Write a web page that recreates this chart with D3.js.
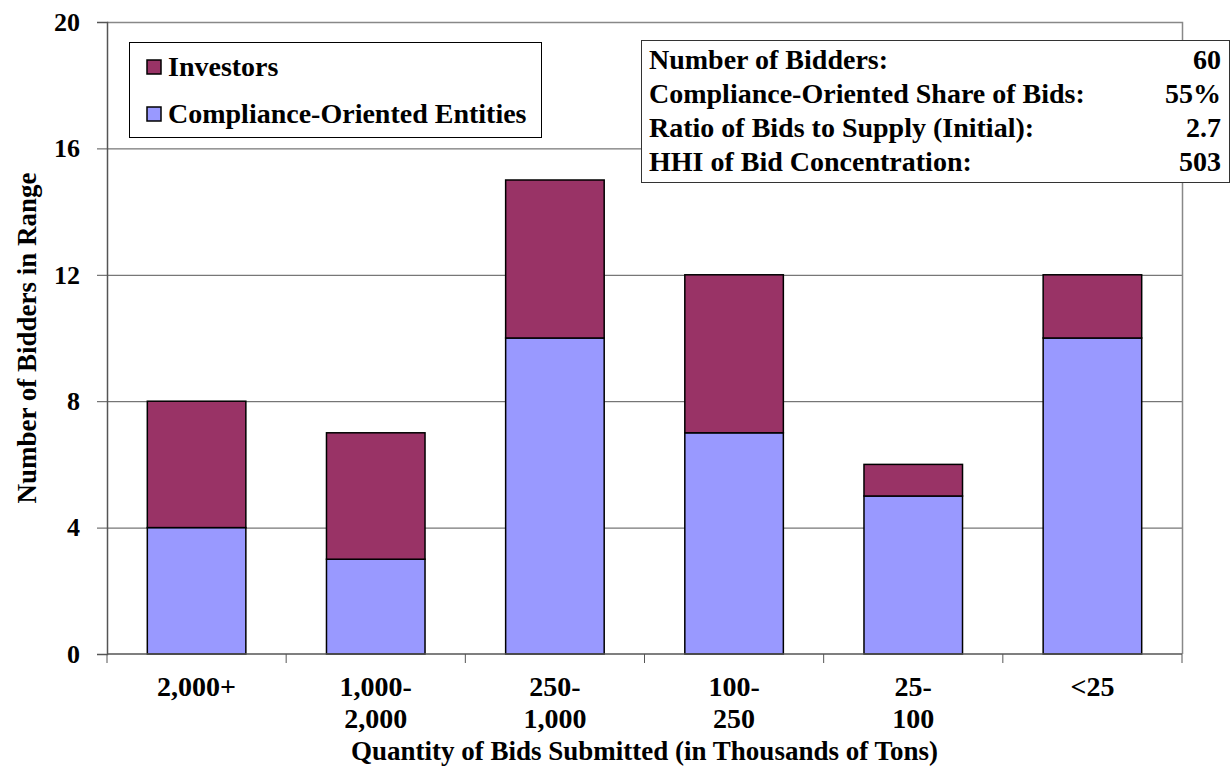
<!DOCTYPE html>
<html>
<head>
<meta charset="utf-8">
<script src="https://cdn.jsdelivr.net/npm/d3@7"></script>
<style>
  body { margin: 0; background: #fff; }
  svg text { font-family: "Liberation Serif", "Times New Roman", serif; font-weight: bold; fill: #000; }
</style>
</head>
<body>
<div id="chart"></div>
<script>
// categorias e valores
const categories = [["2,000+"], ["1,000-", "2,000"], ["250-", "1,000"], ["100-", "250"], ["25-", "100"], ["<25"]];
const compliance = [4, 3, 10, 7, 5, 10];
const investors = [4, 4, 5, 5, 1, 2];
const yTicks = [0, 4, 8, 12, 16, 20];
const statLabels = ["Number of Bidders:", "Compliance-Oriented Share of Bids:", "Ratio of Bids to Supply (Initial):", "HHI of Bid Concentration:"];
const statValues = ["60", "55%", "2.7", "503"];

const width = 1232, height = 766;
const m = { left: 107, top: 22, right: 1182, bottom: 654 };
const colInv = "#993366", colComp = "#9999FF";

const svg = d3.select("#chart").append("svg")
  .attr("width", width).attr("height", height);

const x = d3.scaleBand().domain(d3.range(categories.length))
  .range([m.left, m.right]).paddingInner(0.45).paddingOuter(0.225);
const y = d3.scaleLinear().domain([0, 20]).range([m.bottom, m.top]);

// grade horizontal
svg.append("g").selectAll("line").data(yTicks.filter(d => d > 0 && d < 20)).join("line")
  .attr("x1", m.left).attr("x2", m.right)
  .attr("y1", d => y(d) + 0.5).attr("y2", d => y(d) + 0.5)
  .attr("stroke", "#555").attr("stroke-width", 1);

// borda da área do gráfico (cinza)
svg.append("path")
  .attr("d", `M${m.left},${m.top + 0.5}H${m.right + 0.5}V${m.bottom}`)
  .attr("fill", "none").attr("stroke", "#888").attr("stroke-width", 1.5);

// barras empilhadas
const bars = svg.append("g");
bars.selectAll("rect.comp").data(compliance).join("rect")
  .attr("class", "comp")
  .attr("x", (d, i) => x(i)).attr("width", x.bandwidth())
  .attr("y", d => y(d)).attr("height", d => y(0) - y(d))
  .attr("fill", colComp).attr("stroke", "#000").attr("stroke-width", 1.5);
bars.selectAll("rect.inv").data(investors).join("rect")
  .attr("class", "inv")
  .attr("x", (d, i) => x(i)).attr("width", x.bandwidth())
  .attr("y", (d, i) => y(compliance[i] + d)).attr("height", (d, i) => y(compliance[i]) - y(compliance[i] + d))
  .attr("fill", colInv).attr("stroke", "#000").attr("stroke-width", 1.5);

// eixo Y
const yAxis = svg.append("g").attr("transform", `translate(${m.left},0)`)
  .call(d3.axisLeft(y).tickValues(yTicks).tickSize(10).tickPadding(17));
yAxis.select(".domain").attr("stroke", "#555").attr("stroke-width", 1.5);
yAxis.selectAll(".tick line").attr("stroke", "#555");
yAxis.selectAll("text").style("font-size", "26px").style("font-family", "Liberation Serif").style("font-weight", "bold");

// eixo X (ticks nas divisões das categorias)
const step = x.step();
const xEdges = d3.range(categories.length + 1).map(i => m.left + i * step);
svg.append("line").attr("x1", m.left).attr("x2", m.right)
  .attr("y1", m.bottom).attr("y2", m.bottom).attr("stroke", "#555").attr("stroke-width", 1.5);
svg.append("g").selectAll("line").data(xEdges).join("line")
  .attr("x1", d => d).attr("x2", d => d)
  .attr("y1", m.bottom).attr("y2", m.bottom + 9)
  .attr("stroke", "#555").attr("stroke-width", 1);

const xl = svg.append("g").selectAll("text").data(categories).join("text")
  .attr("x", (d, i) => x(i) + x.bandwidth() / 2)
  .attr("y", 696)
  .attr("text-anchor", "middle")
  .style("font-size", "28px");
xl.selectAll("tspan").data(d => d).join("tspan")
  .attr("x", function () { return this.parentNode.getAttribute("x"); })
  .attr("dy", (d, i) => i === 0 ? 0 : 32)
  .text(d => d);

// títulos dos eixos
svg.append("text").attr("x", (m.left + m.right) / 2).attr("y", 760)
  .attr("text-anchor", "middle").style("font-size", "27px")
  .text("Quantity of Bids Submitted (in Thousands of Tons)");
svg.append("text")
  .attr("transform", `translate(36,${(m.top + m.bottom) / 2}) rotate(-90)`)
  .attr("text-anchor", "middle").style("font-size", "27px")
  .text("Number of Bidders in Range");

// legenda
const leg = svg.append("g");
leg.append("rect").attr("x", 129.5).attr("y", 42.5).attr("width", 412).attr("height", 95)
  .attr("fill", "#fff").attr("stroke", "#000").attr("stroke-width", 1);
const legItems = [["Investors", colInv], ["Compliance-Oriented Entities", colComp]];
legItems.forEach((it, i) => {
  const cy = 67 + i * 47;
  leg.append("rect").attr("x", 147).attr("y", cy - 7).attr("width", 14).attr("height", 14)
    .attr("fill", it[1]).attr("stroke", "#000").attr("stroke-width", 1.5);
  leg.append("text").attr("x", 168).attr("y", cy + 9).style("font-size", "28px").text(it[0]);
});

// caixa de estatísticas
const info = svg.append("g");
info.append("rect").attr("x", 641.5).attr("y", 40.5).attr("width", 588).attr("height", 142)
  .attr("fill", "#fff").attr("stroke", "#333").attr("stroke-width", 1);
statLabels.forEach((s, i) => {
  const by = 69 + i * 34;
  info.append("text").attr("x", 649).attr("y", by).style("font-size", "28px").text(s);
  info.append("text").attr("x", 1221).attr("y", by).attr("text-anchor", "end")
    .style("font-size", "28px").text(statValues[i]);
});
</script>
</body>
</html>
